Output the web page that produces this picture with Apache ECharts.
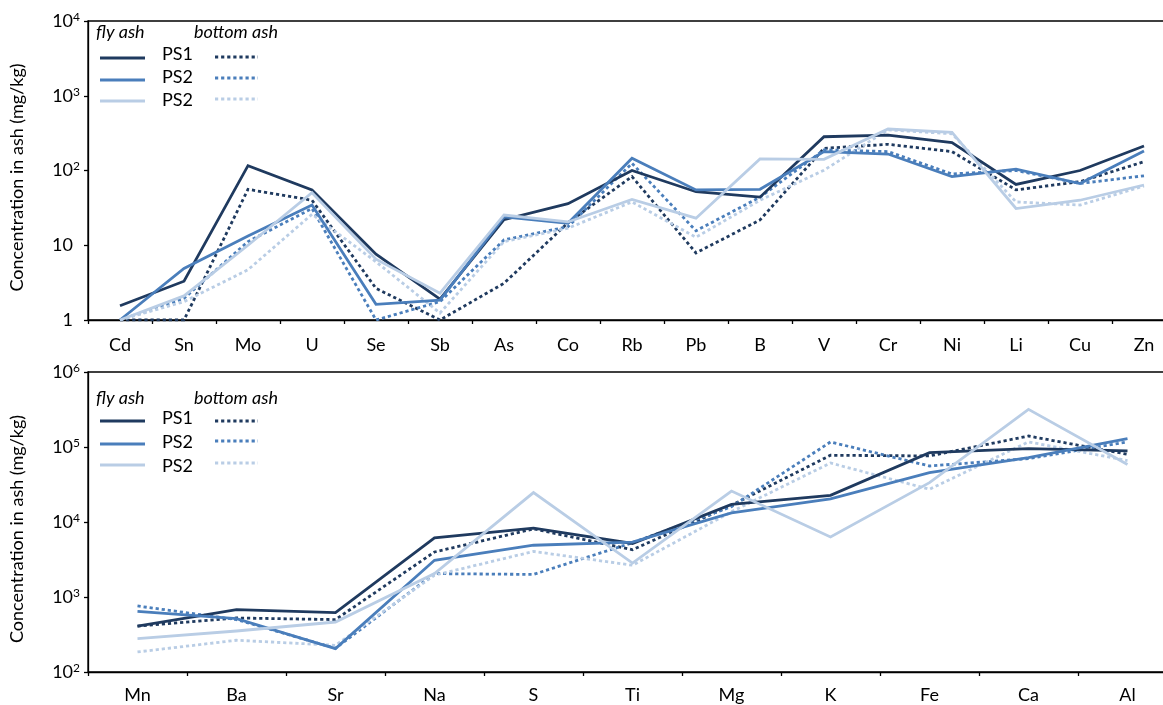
<!DOCTYPE html>
<html><head><meta charset="utf-8">
<script src="https://cdn.jsdelivr.net/npm/echarts@6/dist/echarts.min.js"></script>
<style>html,body{margin:0;padding:0;background:#fff;overflow:hidden;width:1163px;height:705px}#c{width:1200px;height:705px}</style>
</head><body><div id="c"></div>
<script>
// ---------- data ----------
const topCategories = ['Cd','Sn','Mo','U','Se','Sb','As','Co','Rb','Pb','B','V','Cr','Ni','Li','Cu','Zn'];
const topFlyPS1    = [1.55, 3.3, 116, 55, 7.6, 1.9, 22, 36, 100, 52, 44, 283, 298, 236, 65, 100, 213];
const topFlyPS2    = [1.0, 4.9, 13.3, 34.5, 1.62, 1.85, 24, 19.7, 146, 55, 56, 179, 166, 83, 104, 67, 182];
const topFlyPS3    = [1.0, 2.1, 10, 50.5, 6.5, 2.28, 25.4, 20.5, 41, 23, 143, 141, 359, 324, 31, 40, 64];
const topBottomPS1 = [1.0, 1.0, 56, 40, 2.65, 1.0, 3.1, 20, 83, 7.9, 21.8, 198, 224, 179, 55, 71, 131];
const topBottomPS2 = [1.0, 1.95, 11.2, 31, 1.0, 1.76, 11.8, 17.7, 125, 15.6, 44, 189, 179, 90, 100, 67, 85];
const topBottomPS3 = [1.0, 1.76, 4.7, 26, 6.0, 1.24, 11.2, 16.9, 38, 12.8, 40, 101, 350, 310, 38, 34.5, 62];
const topTickValues = [1, 10, 100, 1000, 10000];
const topTickLabels = ['1', '10', '10^2', '10^3', '10^4'];

const botCategories = ['Mn','Ba','Sr','Na','S','Ti','Mg','K','Fe','Ca','Al'];
const botFlyPS1    = [410, 680, 620, 6160, 8300, 5170, 17200, 22700, 84100, 95000, 89000];
const botFlyPS2    = [644, 515, 205, 3090, 4900, 5400, 13200, 20400, 45600, 72000, 129000];
const botFlyPS3    = [279, 352, 464, 2050, 24700, 2830, 25900, 6300, 33500, 318000, 58600];
const botBottomPS1 = [410, 525, 500, 3980, 8100, 4270, 16700, 77600, 76000, 140000, 80000];
const botBottomPS2 = [759, 500, 207, 2050, 2000, 5300, 16000, 116700, 55800, 70000, 117000];
const botBottomPS3 = [185, 265, 227, 1950, 4050, 2650, 13700, 61200, 27300, 117000, 66000];
const botTickValues = [100, 1000, 10000, 100000, 1000000];
const botTickLabels = ['10^2', '10^3', '10^4', '10^5', '10^6'];

const legendHeaders = ['fly ash', 'bottom ash'];
const legendLabels = ['PS1', 'PS2', 'PS2'];
const yAxisName = 'Concentration in ash (mg/kg)';

// ---------- styles ----------
const colors = ['#1f3a5f', '#4a7ebb', '#b9cde5'];
const FONT = 'Lato, "Open Sans", sans-serif';
const DOT = [3.2, 2.9];

function tickFormatter(values, labels) {
  return function (v) {
    let idx = -1;
    for (let i = 0; i < values.length; i++) if (Math.abs(values[i] - v) / values[i] < 1e-6) idx = i;
    if (idx < 0) return '';
    const s = labels[idx];
    const m = s.match(/^(\d+)\^(\d+)$/);
    if (m) return '{b|' + m[1] + '}{s|' + m[2] + '}';
    return '{b|' + s + '}{p| }';
  };
}
const richY = {
  b: { fontSize: 18, color: '#000', fontFamily: FONT, lineHeight: 20 },
  s: { fontSize: 12, color: '#000', fontFamily: FONT, verticalAlign: 'top', lineHeight: 8 },
  p: { fontSize: 11, width: 7 }
};

function xAxisCfg(gi, cats, margin) {
  return {
    type: 'category', gridIndex: gi, data: cats, boundaryGap: true,
    axisLine: { show: true, lineStyle: { color: '#000', width: 1.3 } },
    axisTick: { show: true, length: 4, alignWithLabel: false, lineStyle: { color: '#000', width: 1.3 } },
    axisLabel: { color: '#000', fontSize: 18, fontFamily: FONT, margin: margin, interval: 0 },
    splitLine: { show: false }
  };
}
function yAxisCfg(gi, min, max, tv, tl) {
  return {
    type: 'log', logBase: 10, gridIndex: gi, min: min, max: max, splitNumber: 4,
    axisLine: { show: true, lineStyle: { color: '#000', width: 1.3 } },
    axisTick: { show: true, length: 4, lineStyle: { color: '#000', width: 1.3 } },
    minorTick: { show: false }, splitLine: { show: false },
    axisLabel: { formatter: tickFormatter(tv, tl), rich: richY, margin: 8 },
    name: yAxisName, nameLocation: 'middle', nameGap: 62,
    nameTextStyle: { color: '#000', fontSize: 18, fontFamily: FONT, padding: [0, 14, 0, 0] }
  };
}
function lineSeries(gi, data, ci, dotted) {
  return {
    type: 'line', xAxisIndex: gi, yAxisIndex: gi, data: data,
    symbol: 'none', silent: true, animation: false,
    lineStyle: { color: colors[ci], width: 2.8, type: dotted ? DOT : 'solid', cap: 'butt', join: 'miter' },
    z: dotted ? 2 : 3
  };
}

function legendGraphics(hy, lineYs, textYs, dotYs) {
  const els = [];
  els.push({ type: 'text', x: 96, y: hy, style: { text: legendHeaders[0], fill: '#000', font: 'italic 18px ' + FONT, textVerticalAlign: 'middle' } });
  els.push({ type: 'text', x: 194, y: hy, style: { text: legendHeaders[1], fill: '#000', font: 'italic 18px ' + FONT, textVerticalAlign: 'middle' } });
  for (let i = 0; i < legendLabels.length; i++) {
    els.push({ type: 'line', shape: { x1: 100, y1: lineYs[i], x2: 145, y2: lineYs[i] }, style: { stroke: colors[i], lineWidth: 3 } });
    els.push({ type: 'text', x: 162, y: textYs[i], style: { text: legendLabels[i], fill: '#000', font: '18px ' + FONT, textVerticalAlign: 'middle' } });
    els.push({ type: 'line', shape: { x1: 215, y1: dotYs[i], x2: 258, y2: dotYs[i] }, style: { stroke: colors[i], lineWidth: 3, lineDash: DOT } });
  }
  return els;
}

const chart = echarts.init(document.getElementById('c'), null, { renderer: 'canvas', width: 1200, height: 705 });
chart.setOption({
  animation: false,
  backgroundColor: '#fff',
  grid: [
    { left: 83, top: 21, width: 1093, height: 299, show: true, borderColor: '#000', borderWidth: 1.3, backgroundColor: 'transparent', containLabel: false },
    { left: 83, top: 372, width: 1094, height: 300, show: true, borderColor: '#000', borderWidth: 1.3, backgroundColor: 'transparent', containLabel: false }
  ],
  xAxis: [xAxisCfg(0, topCategories, 16), xAxisCfg(1, botCategories, 14)],
  yAxis: [yAxisCfg(0, 1, 10000, topTickValues, topTickLabels), yAxisCfg(1, 100, 1000000, botTickValues, botTickLabels)],
  series: [
    lineSeries(0, topBottomPS1, 0, true), lineSeries(0, topBottomPS2, 1, true), lineSeries(0, topBottomPS3, 2, true),
    lineSeries(0, topFlyPS1, 0, false), lineSeries(0, topFlyPS2, 1, false), lineSeries(0, topFlyPS3, 2, false),
    lineSeries(1, botBottomPS1, 0, true), lineSeries(1, botBottomPS2, 1, true), lineSeries(1, botBottomPS3, 2, true),
    lineSeries(1, botFlyPS1, 0, false), lineSeries(1, botFlyPS2, 1, false), lineSeries(1, botFlyPS3, 2, false)
  ],
  graphic: legendGraphics(32, [58, 80, 101], [54, 77, 100], [57, 78, 99])
    .concat(legendGraphics(398, [421, 444, 465], [418, 442, 466], [421, 441, 463]))
});
</script>
</body></html>
